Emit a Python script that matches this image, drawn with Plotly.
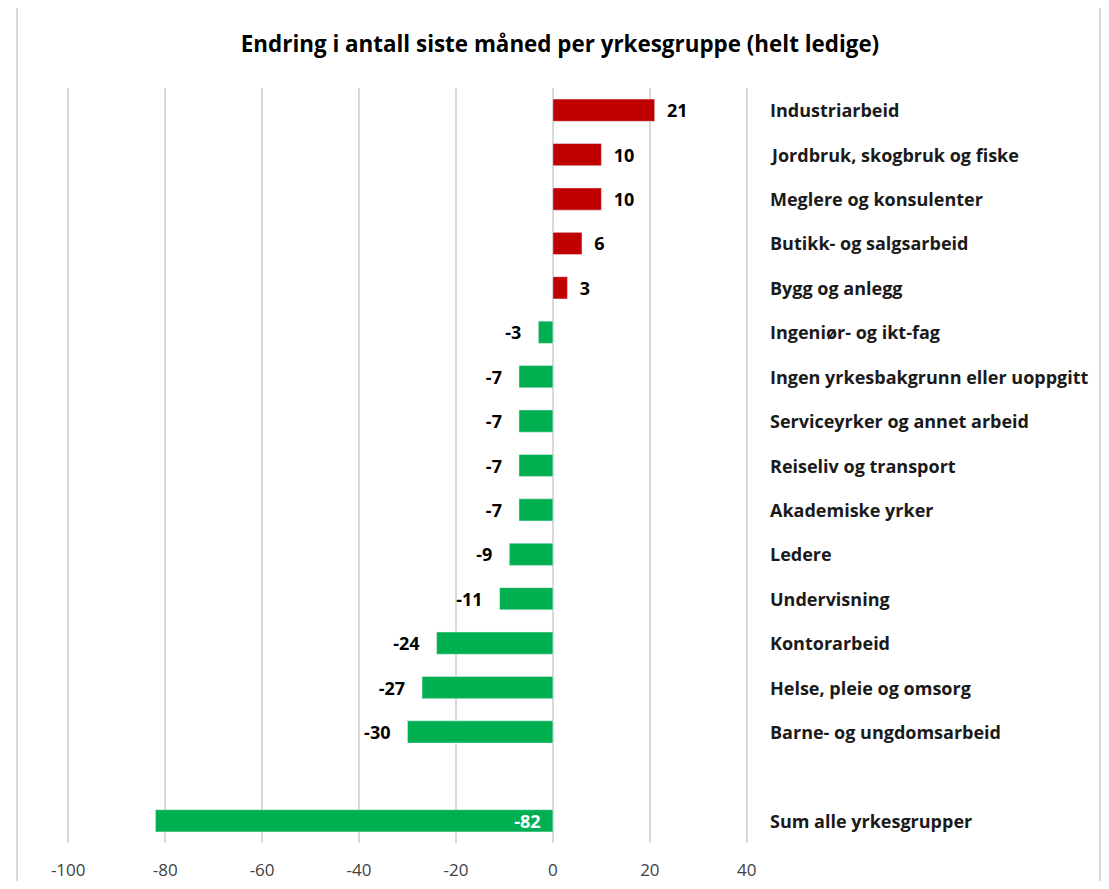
import plotly.graph_objects as go

title = "Endring i antall siste måned per yrkesgruppe (helt ledige)"
categories = [
    "Industriarbeid", "Jordbruk, skogbruk og fiske", "Meglere og konsulenter",
    "Butikk- og salgsarbeid", "Bygg og anlegg", "Ingeniør- og ikt-fag",
    "Ingen yrkesbakgrunn eller uoppgitt", "Serviceyrker og annet arbeid",
    "Reiseliv og transport", "Akademiske yrker", "Ledere", "Undervisning",
    "Kontorarbeid", "Helse, pleie og omsorg", "Barne- og ungdomsarbeid",
]
values = [21, 10, 10, 6, 3, -3, -7, -7, -7, -7, -9, -11, -24, -27, -30]
total_label = "Sum alle yrkesgrupper"
total_value = -82
spacer = " "
tick_vals = [-100, -80, -60, -40, -20, 0, 20, 40]
tick_text = ["-100", "-80", "-60", "-40", "-20", "0", "20", "40"]

RED = "#C00000"
GREEN = "#00B050"
FONT = "Open Sans, Noto Sans, sans-serif"

all_cats = categories + [spacer, total_label]

pos_c = [c for c, v in zip(categories, values) if v >= 0]
pos_v = [v for v in values if v >= 0]
neg_c = [c for c, v in zip(categories, values) if v < 0]
neg_v = [v for v in values if v < 0]

# page body has an 8px margin; compensate so the plot lands where the reference has it
OFF = 8
W, H = 1109 - 2 * OFF, 889 - 2 * OFF
PL, PR, PT, PB = 67, 748, 88, 843  # plot area in page pixels
XMIN, XMAX = -100.25, 40.25

def px_to_paper_x(p):
    return (p - PL) / (PR - PL)

fig = go.Figure()
fig.add_trace(go.Bar(
    y=pos_c, x=pos_v, orientation="h", marker=dict(color=RED),
    text=[f"  {v}" for v in pos_v], textposition="outside", texttemplate="%{text}",
    constraintext="none",
    textfont=dict(family=FONT, size=18, color="#000000", weight="bold"),
    cliponaxis=False, width=0.5, hoverinfo="skip"))
fig.add_trace(go.Bar(
    y=neg_c, x=neg_v, orientation="h", marker=dict(color=GREEN),
    text=[f"{v}   " for v in neg_v], textposition="outside", texttemplate="%{text}",
    constraintext="none",
    textfont=dict(family=FONT, size=18, color="#000000", weight="bold"),
    cliponaxis=False, width=0.5, hoverinfo="skip"))
fig.add_trace(go.Bar(
    y=[total_label], x=[total_value], orientation="h", marker=dict(color=GREEN),
    text=[f"{total_value}  "], textposition="inside", insidetextanchor="start",
    texttemplate="%{text}", constraintext="none",
    textfont=dict(family=FONT, size=18, color="#FFFFFF", weight="bold"),
    width=0.5, hoverinfo="skip"))

annotations = []
for c in categories + [total_label]:
    annotations.append(dict(
        x=px_to_paper_x(768), xref="paper", y=c, yref="y",
        xanchor="left", yanchor="middle", text=c, showarrow=False,
        font=dict(family=FONT, size=18, color="#1a1a1a", weight="bold")))

fig.update_layout(
    width=W, height=H,
    margin=dict(l=PL - OFF, r=W - (PR - OFF), t=PT - OFF, b=H - (PB - OFF),
                autoexpand=False),
    paper_bgcolor="white", plot_bgcolor="white",
    showlegend=False, barmode="overlay",
    title=dict(text=title, x=(560 - OFF) / W, xref="container", xanchor="center",
               y=1 - (44 - OFF) / H, yref="container", yanchor="middle",
               font=dict(family=FONT, size=22.4, color="#000000", weight="bold")),
    xaxis=dict(range=[XMIN, XMAX], tickvals=tick_vals, ticktext=tick_text,
               showgrid=True, gridcolor="#D9D9D9", gridwidth=2, zeroline=False,
               showline=False, ticks="", ticklabelstandoff=15, automargin=False,
               tickfont=dict(family=FONT, size=17, color="#404040")),
    yaxis=dict(categoryorder="array", categoryarray=all_cats,
               range=[len(all_cats) - 0.5, -0.5], showticklabels=False,
               showgrid=False, zeroline=False, showline=False, ticks="",
               automargin=False),
    annotations=annotations,
    shapes=[dict(type="rect", xref="paper", yref="paper",
                 x0=px_to_paper_x(17), x1=px_to_paper_x(1100),
                 y0=-0.2, y1=1 + (PT - 7) / (PB - PT),
                 line=dict(color="#D9D9D9", width=2), fillcolor="rgba(0,0,0,0)",
                 layer="below")],
)

fig.write_html("out.html")
